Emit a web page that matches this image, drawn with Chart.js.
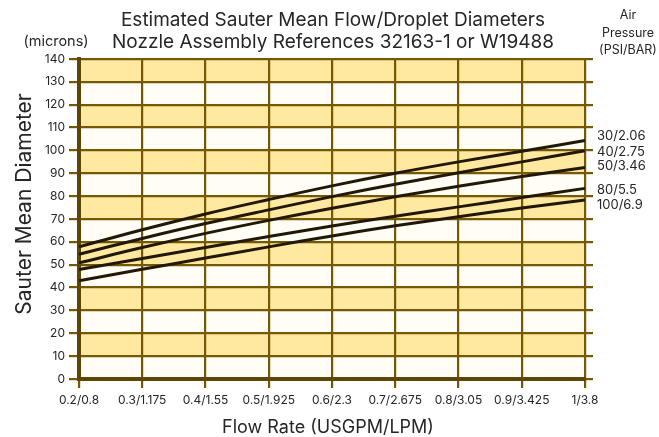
<!DOCTYPE html>
<html><head><meta charset="utf-8">
<script src="https://cdn.jsdelivr.net/npm/chart.js@4/dist/chart.umd.min.js"></script>
<style>html,body{margin:0;padding:0;background:#fff;}</style>
</head><body>
<canvas id="c" width="659" height="437" style="width:659px;height:437px;display:block"></canvas>
<script>
// ---- data ----
const categories = ['0.2/0.8','0.3/1.175','0.4/1.55','0.5/1.925','0.6/2.3','0.7/2.675','0.8/3.05','0.9/3.425','1/3.8'];
const seriesNames = ['30/2.06','40/2.75','50/3.46','80/5.5','100/6.9'];
const psi30  = [57.8,65.3,72.2,78.5,84.5,90.0,95.0,99.6,104.3];
const psi40  = [54.6,61.5,68.0,74.0,79.8,85.2,90.2,95.0,99.9];
const psi50  = [50.8,57.5,63.7,69.4,74.7,79.7,84.3,88.6,92.5];
const psi80  = [47.9,52.7,57.5,62.3,66.9,71.2,75.3,79.4,83.4];
const psi100 = [43.0,48.0,52.9,57.8,62.6,67.0,71.0,74.8,78.3];
const seriesValues = [psi30, psi40, psi50, psi80, psi100];
const yMin = 0, yMax = 140, yStep = 10;

// ---- styles ----
const FONT = 'Inter, "Open Sans", sans-serif';
const GRID = '#765800';
const AXIS = '#5e4600';
const LINE = '#221807';
const TEXT = '#262626';
const labelOffsets = [-5, 1, -1, 1.5, 5];

const decor = {
  id: 'decor',
  beforeDraw(chart) {
    const {ctx, chartArea: a, scales: {y}} = chart;
    ctx.save();
    for (let v = yMin; v < yMax; v += yStep) {
      const top = y.getPixelForValue(v + yStep), bot = y.getPixelForValue(v);
      ctx.fillStyle = (Math.round(v / yStep) % 2 === 1) ? '#FFE8A0' : '#FFFDF6';
      ctx.fillRect(a.left, top, a.right - a.left, bot - top);
    }
    ctx.restore();
  },
  afterDraw(chart) {
    const {ctx, chartArea: a} = chart;
    ctx.save();
    ctx.fillStyle = TEXT;
    ctx.textAlign = 'center';
    ctx.textBaseline = 'middle';
    ctx.font = '19px ' + FONT;
    ctx.fillText('Estimated Sauter Mean Flow/Droplet Diameters', 333, 20);
    ctx.fillText('Nozzle Assembly References 32163-1 or W19488', 333, 42);
    ctx.font = '18px ' + FONT;
    ctx.fillText('Flow Rate (USGPM/LPM)', 328, 428);
    ctx.font = '14.5px ' + FONT;
    ctx.fillText('(microns)', 56, 42);
    ctx.font = '12.5px ' + FONT;
    ctx.fillText('Air', 628, 15);
    ctx.fillText('Pressure', 628, 33);
    ctx.fillText('(PSI/BAR)', 628, 50);
    ctx.save();
    ctx.translate(25, 204);
    ctx.rotate(-Math.PI / 2);
    ctx.font = '21px ' + FONT;
    ctx.fillText('Sauter Mean Diameter', 0, 0);
    ctx.restore();
    ctx.font = '13px ' + FONT;
    ctx.textAlign = 'left';
    chart.data.datasets.forEach((ds, i) => {
      const meta = chart.getDatasetMeta(i);
      const p = meta.data[meta.data.length - 1];
      ctx.fillText(ds.label, a.right + 12, p.y + labelOffsets[i]);
    });
    ctx.restore();
  }
};

new Chart(document.getElementById('c'), {
  type: 'line',
  data: {
    labels: categories,
    datasets: seriesValues.map((vals, i) => ({
      label: seriesNames[i],
      data: vals,
      borderColor: LINE,
      borderWidth: 3,
      pointRadius: 0,
      tension: 0.4,
      fill: false
    }))
  },
  options: {
    responsive: false,
    animation: false,
    devicePixelRatio: 1,
    layout: {padding: {top: 59, right: 66, bottom: 0, left: 0}},
    plugins: {legend: {display: false}, tooltip: {enabled: false}, title: {display: false}},
    scales: {
      x: {
        type: 'category',
        offset: false,
        grid: {color: GRID, lineWidth: 2.2, tickLength: 9, tickColor: GRID},
        border: {display: true, color: AXIS, width: 4},
        ticks: {color: TEXT, font: {family: FONT, size: 12}, padding: 5, maxRotation: 0, autoSkip: false},
        afterFit(s) { s.height = 58; }
      },
      y: {
        min: yMin, max: yMax,
        grid: {color: GRID, lineWidth: 2.2, tickLength: 10, tickColor: GRID},
        border: {display: true, color: AXIS, width: 4},
        ticks: {stepSize: yStep, color: TEXT, font: {family: FONT, size: 12}, padding: 4},
        afterFit(s) { s.width = 79; }
      },
      y2: {
        position: 'right',
        min: yMin, max: yMax,
        grid: {drawOnChartArea: false, color: GRID, lineWidth: 2.2, tickLength: 8, tickColor: GRID},
        border: {display: false},
        ticks: {stepSize: yStep, display: false},
        afterFit(s) { s.width = 8; }
      }
    }
  },
  plugins: [decor]
});
</script>
</body></html>
